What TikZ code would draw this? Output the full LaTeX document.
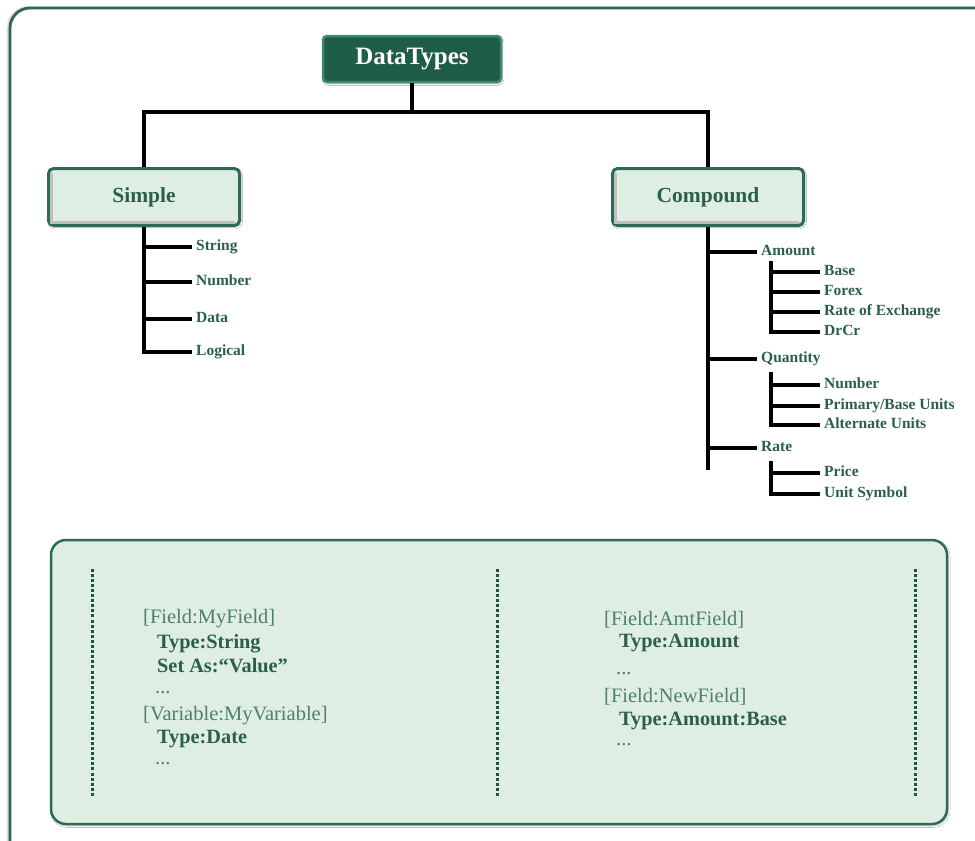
\documentclass[tikz,border=0pt]{standalone}
\usepackage{fontspec}
\setmainfont{Liberation Serif}
\usetikzlibrary{shadows.blur}

\definecolor{topfill}{HTML}{1F5C4A}
\definecolor{topedge}{HTML}{3B8A6E}
\definecolor{boxedge}{HTML}{2D6B56}
\definecolor{boxfill}{HTML}{DFEEE2}
\definecolor{txtgreen}{HTML}{2B5F4D}
\definecolor{txtlight}{HTML}{4F7F6D}
\definecolor{frameline}{HTML}{2E6652}
\definecolor{dotgreen}{HTML}{1F5444}

\begin{document}
\begin{tikzpicture}[x=1pt,y=-1pt,
  framebox/.style={draw=frameline, line width=2.8pt, fill=white, rounded corners=20pt,
    blur shadow={shadow xshift=-2pt, shadow yshift=1pt, shadow blur steps=6, shadow opacity=25}},
  topbox/.style={draw=topedge, line width=2.5pt, fill=topfill, rounded corners=4pt,
    minimum width=178pt, minimum height=46pt, text=white,
    font=\bfseries\fontsize{25}{28}\selectfont,
    blur shadow={shadow xshift=1pt, shadow yshift=-1.5pt, shadow blur steps=4, shadow opacity=35}},
  catbox/.style={draw=boxedge, line width=3pt, fill=boxfill, rounded corners=5pt,
    minimum width=191pt, minimum height=57pt, text=txtgreen,
    font=\bfseries\fontsize{21.5}{25}\selectfont,
    blur shadow={shadow xshift=1pt, shadow yshift=-1.5pt, shadow blur steps=4, shadow opacity=30}},
  bevel/.style={line width=3pt, black!25, line cap=round},
  leaf/.style={anchor=west, inner xsep=4pt, inner ysep=0pt, text height=10.5pt, text depth=3pt,
    text=txtgreen, font=\bfseries\fontsize{15.5}{17}\selectfont},
  tree/.style={line width=3.6pt, black, line join=miter},
  panel/.style={draw=boxedge, line width=2.5pt, fill=boxfill, rounded corners=15pt,
    blur shadow={shadow xshift=1.2pt, shadow yshift=-1.5pt, shadow blur steps=4, shadow opacity=30}},
  dotmark/.style={fill=dotgreen},
  plain/.style={anchor=base west, inner sep=0pt, text=txtlight, font=\fontsize{20.5}{23}\selectfont},
  strong/.style={anchor=base west, inner sep=0pt, text=txtgreen, font=\bfseries\fontsize{20.3}{23}\selectfont}
]
\useasboundingbox (0,0) rectangle (975,841);

% outer frame, running past the page edge on the right and bottom
\begin{scope}
  \clip (-5,-5) rectangle (975,841);
  \path[framebox] (10,8) rectangle (1000,875);
\end{scope}

% root and the two categories
\node[topbox] (top) at (412,59) {DataTypes};
\node[catbox] (simple) at (144,197) {Simple};
\node[catbox] (compound) at (708,197) {Compound};

% soft inner bevel along the left and lower edges of the category boxes
\foreach \b in {simple,compound}
  \draw[bevel] ([xshift=4.5pt,yshift=-7pt]\b.north west) -- ([xshift=4.5pt,yshift=4.5pt]\b.south west)
               -- ([xshift=-7pt,yshift=4.5pt]\b.south east);

\coordinate (bar) at (412,112);
\draw[tree] (top.south) -- (bar);
\draw[tree] (simple.north) |- (bar) -| (compound.north);

% simple types
\node[leaf] (string)  at (192,247) {String};
\node[leaf] (number)  at (192,282) {Number};
\node[leaf] (data)    at (192,319) {Data};
\node[leaf] (logical) at (192,352) {Logical};
\draw[tree] (simple.south) |- (logical.west);
\foreach \n in {string,number,data}
  \draw[tree] (simple.south |- \n.west) -- (\n.west);

% compound types
\node[leaf] (amount)   at (757,252) {Amount};
\node[leaf] (quantity) at (757,359) {Quantity};
\node[leaf] (rate)     at (757,448) {Rate};
\coordinate (cmpend) at (708,470);
\draw[tree] (compound.south) -- (cmpend);
\foreach \n in {amount,quantity,rate}
  \draw[tree] (compound.south |- \n.west) -- (\n.west);

\node[leaf] (base)   at (820,272) {Base};
\node[leaf] (forex)  at (820,292) {Forex};
\node[leaf] (roe)    at (820,312) {Rate of Exchange};
\node[leaf] (drcr)   at (820,332) {DrCr};
\coordinate (amtfork) at (771,261);
\draw[tree] (amtfork) |- (drcr.west);
\foreach \n in {base,forex,roe}
  \draw[tree] (amtfork |- \n.west) -- (\n.west);

\node[leaf] (qnum)   at (820,385) {Number};
\node[leaf] (qprim)  at (820,406) {Primary/Base Units};
\node[leaf] (qalt)   at (820,425) {Alternate Units};
\coordinate (qtyfork) at (771,372);
\draw[tree] (qtyfork) |- (qalt.west);
\foreach \n in {qnum,qprim}
  \draw[tree] (qtyfork |- \n.west) -- (\n.west);

\node[leaf] (price)  at (820,473) {Price};
\node[leaf] (unit)   at (820,494) {Unit Symbol};
\coordinate (ratefork) at (771,461);
\draw[tree] (ratefork) |- (unit.west);
\draw[tree] (ratefork |- price.west) -- (price.west);

% example panel with three dotted rules
\path[panel] (51,540) rectangle (947,824);
\foreach \x in {92,497,915}
  \foreach \k in {0,...,44}
    \fill[dotmark] (\x-1.5,568.5+5.1*\k) rectangle ++(3,3);

\node[plain]  (l1) at (143,623) {[Field:MyField]};
\node[strong] (l2) at (157,648) {Type:String};
\node[strong] (l3) at (157,672) {Set As:“Value”};
\node[plain]  (l4) at (155,693) {...};
\node[plain]  (l5) at (143,720) {[Variable:MyVariable]};
\node[strong] (l6) at (157,743) {Type:Date};
\node[plain]  (l7) at (155,764) {...};

\node[plain]  (r1) at (604,625) {[Field:AmtField]};
\node[strong] (r2) at (619,647) {Type:Amount};
\node[plain]  (r3) at (616,674) {...};
\node[plain]  (r4) at (604,702) {[Field:NewField]};
\node[strong] (r5) at (619,725) {Type:Amount:Base};
\node[plain]  (r6) at (616,745) {...};
\end{tikzpicture}
\end{document}
